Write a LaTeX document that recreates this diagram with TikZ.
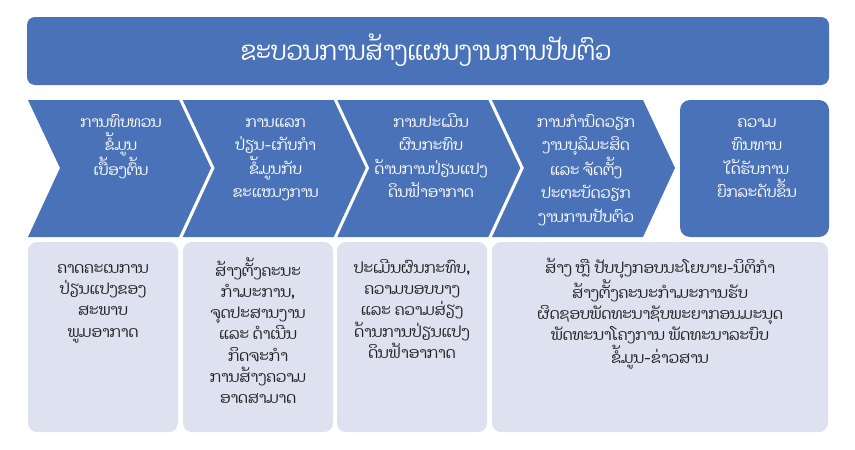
\documentclass[tikz,border=0pt]{standalone}
\usepackage{fontspec}
\newfontfamily\laofont[Script=Lao]{Dhyana}
\newfontfamily\laotitle[Script=Lao,FakeStretch=0.9]{Dhyana}
\definecolor{blu}{HTML}{4A72B8}
\definecolor{pale}{HTML}{DDE1F0}
\definecolor{txt}{HTML}{222222}
\newcommand\fl{\rule{0pt}{16pt}}
\tikzset{
  chevshape/.style={fill=blu, draw=none},
  titlebox/.style={fill=blu, draw=none, rounded corners=8pt},
  lowbox/.style={fill=pale, draw=none, rounded corners=9pt},
  ctext/.style={font=\laofont\fontsize{15}{23.5}\selectfont, text=white, align=center, anchor=north, inner sep=0pt},
  ltext/.style={font=\laofont\fontsize{15.3}{21.3}\selectfont, text=txt, align=center, anchor=north, inner sep=0pt},
  ttext/.style={font=\laotitle\fontsize{26.5}{30}\selectfont, text=white, anchor=center, inner sep=0pt}
}
\newcommand\chevat[1]{\fill[chevshape] (#1,100) -- ++(151,0) -- ++(32,68) -- ++(-32,69) -- ++(-151,0) -- ++(32,-69) -- cycle;}
\begin{document}
\begin{tikzpicture}[x=1pt,y=-1pt]
\useasboundingbox (0,0) rectangle (855,450);
% title
\fill[titlebox] (27,17) rectangle (829,85);
\node[ttext] (title) at (426,50) {ຂະບວນການສ້າງແຜນງານການປັບຕົວ};
% chevrons
\chevat{28}
\chevat{182.7}
\chevat{337.3}
\chevat{492}
\fill[titlebox, rounded corners=10pt] (680,100) rectangle (829,237);
\node[ctext] (c1) at (121,111) {\fl ການທົບທວນ\\ຂໍ້ມູນ\\ເບື້ອງຕົ້ນ};
\node[ctext] (c2) at (275.7,111) {\fl ການແລກ\\ປ່ຽນ-ເກັບກຳ\\ຂໍ້ມູນກັບ\\ຂະແໜງການ};
\node[ctext] (c3) at (431,111) {\fl ການປະເມີນ\\ຜົນກະທົບ\\ດ້ານການປ່ຽນແປງ\\ດິນຟ້າອາກາດ};
\node[ctext] (c4) at (586,111) {\fl ການກຳນົດວຽກ\\ງານບຸລິມະສິດ\\ແລະ ຈັດຕັ້ງ\\ປະຕະບັດວຽກ\\ງານການປັບຕົວ};
\node[ctext] (c5) at (757,111) {\fl ຄວາມ\\ທົນທານ\\ໄດ້ຮັບການ\\ຍົກລະດັບຂຶ້ນ};
% lower boxes
\fill[lowbox] (28,242) rectangle (178,432);
\fill[lowbox] (183,242) rectangle (333,432);
\fill[lowbox] (337,242) rectangle (487,432);
\fill[lowbox] (492,242) rectangle (828,432);
\node[ltext] (l1) at (103,257) {\fl ຄາດຄະເນການ\\ປ່ຽນແປງຂອງ\\ສະພາບ\\ພູມອາກາດ};
\node[ltext] (l2) at (258,257) {\fl ສ້າງຕັ້ງຄະນະ\\ກຳມະການ,\\ຈຸດປະສານງານ\\ແລະ ດຳເນີນ\\ກິດຈະກຳ\\ການສ້າງຄວາມ\\ອາດສາມາດ};
\node[ltext] (l3) at (412,257) {\fl ປະເມີນຜົນກະທົບ,\\ຄວາມບອບບາງ\\ແລະ ຄວາມສ່ຽງ\\ດ້ານການປ່ຽນແປງ\\ດິນຟ້າອາກາດ};
\node[ltext] (l4) at (660,257) {\fl ສ້າງ ຫຼື ປັບປຸງກອບນະໂຍບາຍ-ນິຕິກຳ\\ສ້າງຕັ້ງຄະນະກຳມະການຮັບ\\ຜິດຊອບພັດທະນາຊັບພະຍາກອນມະນຸດ\\ພັດທະນາໂຄງການ ພັດທະນາລະບົບ\\ຂໍ້ມູນ-ຂ່າວສານ};
\end{tikzpicture}
\end{document}
